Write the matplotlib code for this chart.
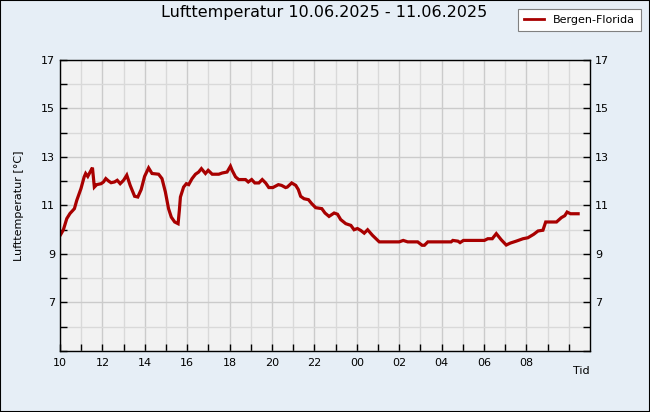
import matplotlib
matplotlib.use("Agg")
import matplotlib.pyplot as plt
from matplotlib.ticker import MultipleLocator, FixedLocator
from matplotlib.patches import Rectangle
from matplotlib.lines import Line2D

# hours since 10.06.2025 10:00
hours = [0.03, 0.16, 0.32, 0.47, 0.68, 0.79, 0.99, 1.14, 1.21, 1.31, 1.42, 1.53, 1.62, 1.73,
         1.94, 2.05, 2.16, 2.29, 2.41, 2.57, 2.70, 2.84, 3.00, 3.15, 3.31, 3.52, 3.67, 3.83,
         3.99, 4.18, 4.34, 4.65, 4.81, 4.97, 5.12, 5.25, 5.41, 5.57, 5.63, 5.68, 5.83, 5.96,
         6.07, 6.23, 6.39, 6.54, 6.67, 6.86, 6.99, 7.18, 7.49, 7.65, 7.88, 8.04, 8.12, 8.28,
         8.43, 8.75, 8.88, 9.04, 9.19, 9.38, 9.54, 9.70, 9.85, 10.04, 10.30, 10.45, 10.64,
         10.72, 10.93, 11.12, 11.24, 11.35, 11.51, 11.72, 11.87, 12.06, 12.35, 12.50, 12.69,
         12.93, 13.09, 13.24, 13.48, 13.72, 13.87, 14.03, 14.19, 14.35, 14.51, 14.74, 15.06,
         16.00, 16.19, 16.40, 16.87, 17.08, 17.19, 17.35, 18.45, 18.53, 18.77, 18.87, 19.03,
         20.02, 20.18, 20.39, 20.58, 20.81, 21.05, 21.24, 21.52, 21.84, 22.07, 22.34, 22.55,
         22.78, 22.91, 23.42, 23.65, 23.81, 23.92, 24.08, 24.44]
temps = [9.8, 10.0, 10.46, 10.67, 10.87, 11.21, 11.70, 12.18, 12.32, 12.2, 12.38, 12.56, 11.76, 11.86,
         11.9, 11.97, 12.11, 12.01, 11.94, 11.97, 12.04, 11.9, 12.04, 12.25, 11.83, 11.38, 11.35, 11.66,
         12.2, 12.55, 12.32, 12.29, 12.11, 11.56, 10.87, 10.52, 10.32, 10.25, 10.8, 11.35, 11.76, 11.9,
         11.86, 12.11, 12.29, 12.38, 12.52, 12.32, 12.45, 12.29, 12.29, 12.34, 12.38, 12.62, 12.45, 12.18,
         12.07, 12.07, 11.97, 12.07, 11.93, 11.93, 12.07, 11.93, 11.74, 11.74, 11.86, 11.83, 11.74,
         11.76, 11.93, 11.83, 11.66, 11.38, 11.28, 11.24, 11.08, 10.91, 10.87, 10.69, 10.55,
         10.69, 10.64, 10.42, 10.25, 10.18, 10.0, 10.05, 9.97, 9.86, 10.0, 9.77, 9.5,
         9.5, 9.56, 9.5, 9.5, 9.36, 9.36, 9.5, 9.5, 9.56, 9.53, 9.47, 9.56,
         9.56, 9.63, 9.63, 9.84, 9.59, 9.37, 9.45, 9.53, 9.63, 9.67, 9.81, 9.95,
         9.98, 10.32, 10.32, 10.5, 10.58, 10.73, 10.66, 10.66]

xtick_pos = [0, 2, 4, 6, 8, 10, 12, 14, 16, 18, 20, 22]
xtick_labels = ["10", "12", "14", "16", "18", "20", "22", "00", "02", "04", "06", "08"]
ytick_pos = [7, 9, 11, 13, 15, 17]

title = "Lufttemperatur 10.06.2025 - 11.06.2025"
series_name = "Bergen-Florida"

bg = "#e6eef6"
line_color = "#a80000"
fig = plt.figure(figsize=(6.5, 4.12), dpi=100, facecolor=bg)
ax = fig.add_axes([60/650, 1-351/412, 530/650, 291/412])
ax.set_facecolor("#f2f2f2")

ax.plot(hours, temps, color=line_color, lw=2.3, solid_joinstyle="miter")

ax.set_xlim(0, 25)
ax.set_ylim(5, 17)

ax.xaxis.set_major_locator(FixedLocator(xtick_pos))
ax.set_xticklabels(xtick_labels)
ax.xaxis.set_minor_locator(FixedLocator([h for h in range(1, 25) if h % 2 == 1 or h == 24]))
ax.yaxis.set_major_locator(FixedLocator(ytick_pos))
ax.yaxis.set_minor_locator(MultipleLocator(1))

ax.grid(True, which="major", color="#cbcbcb", lw=1.0)
ax.grid(True, which="minor", color="#d9d9d9", lw=1.0)
ax.set_axisbelow(True)

ax.tick_params(axis="both", which="both", direction="in", labelsize=8, colors="black",
               length=5, width=1)
ax.tick_params(axis="y", which="both", left=True, right=True, labelleft=True, labelright=True)
ax.tick_params(axis="x", which="both", top=False, pad=5)
for s in ax.spines.values():
    s.set_color("black")
    s.set_linewidth(1)

ax.set_ylabel("Lufttemperatur [°C]", fontsize=8, labelpad=12)
fig.text(581/650, 1-371/412, "Tid", fontsize=8, ha="center", va="center")

fig.text(324/650, 1-12/412, title, fontsize=11.5, ha="center", va="center")

handle = Line2D([], [], color=line_color, lw=2)
leg = fig.legend([handle], [series_name], loc="upper right",
                 bbox_to_anchor=(647/650, 1-3/412), fontsize=8, frameon=True,
                 fancybox=False, edgecolor="#808080", facecolor="white",
                 handlelength=1.8, borderpad=0.55, framealpha=1)
leg.get_frame().set_linewidth(0.8)

fig.patches.append(Rectangle((0, 0), 1, 1, transform=fig.transFigure, fill=False,
                             edgecolor="black", lw=1.5))

fig.savefig("out.png", dpi=100, facecolor=bg)
